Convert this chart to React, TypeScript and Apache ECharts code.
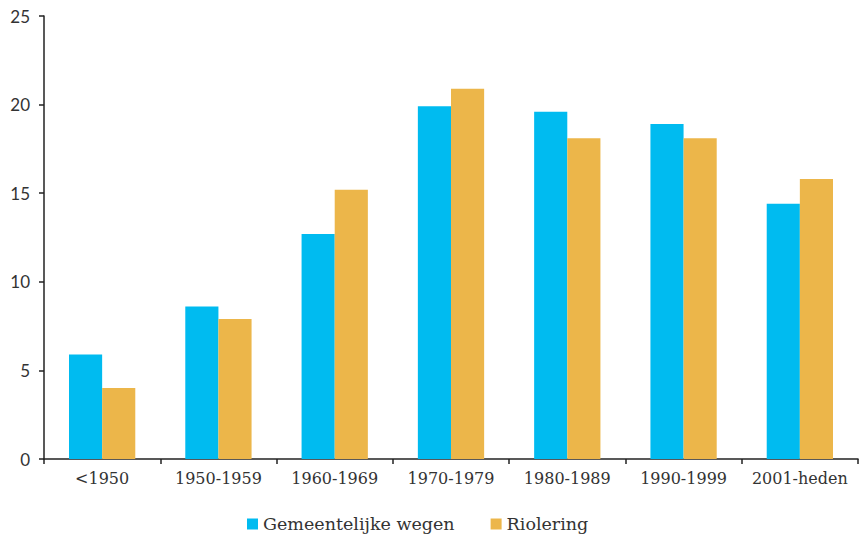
import React, { useEffect, useRef } from "react";
import * as echarts from "echarts";

const categories = ["<1950", "1950-1959", "1960-1969", "1970-1979", "1980-1989", "1990-1999", "2001-heden"];
const wegen = [5.9, 8.6, 12.7, 19.9, 19.6, 18.9, 14.4];
const riolering = [4.0, 7.9, 15.2, 20.9, 18.1, 18.1, 15.8];
const seriesNames = ["Gemeentelijke wegen", "Riolering"];
const colors = ["#00BBF0", "#ECB64A"];

export default function App() {
  const ref = useRef<HTMLDivElement>(null);
  useEffect(() => {
    document.body.style.margin = "0";
    const chart = echarts.init(ref.current!, null, { renderer: "svg" });
    chart.setOption({
      animation: false,
      color: colors,
      grid: { left: 44, right: 1, top: 16, bottom: 77, containLabel: false },
      legend: {
        top: 510,
        left: 242,
        itemWidth: 11,
        itemHeight: 11,
        itemGap: 36,
        icon: "rect",
        textStyle: { fontFamily: "DejaVu Serif", fontSize: 17.5, color: "#333" },
        data: seriesNames,
      },
      xAxis: {
        type: "category",
        data: categories,
        axisLine: { lineStyle: { color: "#222", width: 1.5 } },
        axisTick: { show: true, length: 5, lineStyle: { color: "#222", width: 1.5 } },
        axisLabel: { interval: 0, fontFamily: "DejaVu Serif", fontSize: 16, color: "#333", margin: 11 },
      },
      yAxis: {
        type: "value",
        min: 0,
        max: 25,
        interval: 5,
        splitLine: { show: false },
        axisLine: { show: true, lineStyle: { color: "#222", width: 1.5 } },
        axisTick: { show: true, length: 5, lineStyle: { color: "#222", width: 1.5 } },
        axisLabel: { fontFamily: "Lato", fontSize: 17, color: "#333", margin: 14 },
      },
      series: [
        { name: seriesNames[0], type: "bar", data: wegen, barGap: "0%", barCategoryGap: "43%" },
        { name: seriesNames[1], type: "bar", data: riolering, barGap: "0%", barCategoryGap: "43%" },
      ],
    });
    return () => chart.dispose();
  }, []);
  return <div ref={ref} style={{ position: "absolute", left: 0, top: 0, width: 859, height: 536 }} />;
}
